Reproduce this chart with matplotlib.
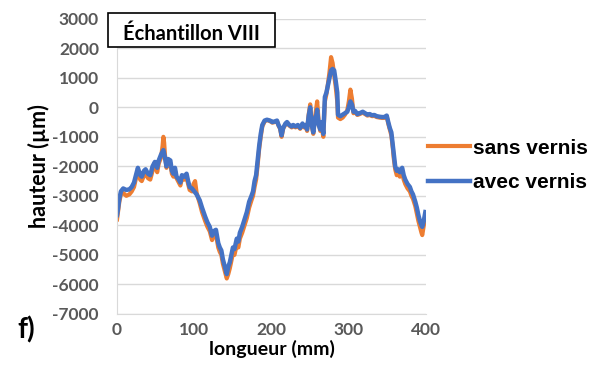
import matplotlib
matplotlib.use("Agg")
import matplotlib.pyplot as plt
from matplotlib.patches import Rectangle

plt.rcParams["font.family"] = ["Lato", "DejaVu Sans"]
plt.rcParams["axes.unicode_minus"] = False

# Profil de hauteur le long de l'échantillon (mm, µm)
x_avec = [0, 1, 3, 5, 8, 12, 16, 19, 22, 25, 27, 30, 32, 35, 37, 40, 43, 46, 49, 52,
          54, 57, 60, 62, 64, 66, 69, 71, 73, 75, 77, 80, 82, 84, 87, 90, 92, 94, 97, 100,
          103, 107, 110, 114, 117, 120, 123, 125, 128, 131, 133, 135, 137, 139, 142, 144, 146, 148, 150, 152,
          155, 157, 159, 162, 165, 168, 171, 174, 176, 178, 180, 182, 184, 186, 188, 191, 194, 198, 201, 204,
          207, 209, 211, 213, 215, 218, 220, 223, 226, 228, 231, 234, 237, 240, 242, 244, 246, 248, 250, 252,
          254, 256, 258, 259, 261, 263, 265, 267, 269, 271, 273, 275, 277, 279, 281, 283, 285, 286, 289, 292,
          295, 298, 300, 302, 304, 306, 308, 311, 314, 318, 321, 324, 327, 330, 333, 336, 340, 343, 346, 349,
          351, 353, 355, 357, 358, 360, 362, 364, 366, 369, 371, 373, 376, 379, 381, 383, 386, 388, 390, 392,
          394, 395, 397, 399]
y_avec = [-3650, -3500, -3100, -2850, -2750, -2800, -2780, -2700, -2550, -2250, -2050, -2300, -2350, -2150, -2100, -2250, -2300, -2000, -1850, -2050,
          -1800, -1600, -1450, -1700, -2000, -1750, -1800, -2150, -2250, -2050, -2350, -2450, -2550, -2300, -2350, -2250, -2500, -2700, -2750, -2850,
          -2950, -3150, -3400, -3700, -3900, -4050, -4350, -4200, -4150, -4600, -4750, -4850, -5150, -5350, -5650, -5400, -5250, -5000, -4750, -4800,
          -4450, -4550, -4250, -4050, -3800, -3550, -3200, -3000, -2850, -2500, -2300, -1800, -1300, -900, -600, -450, -420, -450, -500, -480,
          -450, -600, -700, -950, -700, -550, -500, -600, -650, -600, -650, -600, -700, -550, -650, -600, -750, -300, 0, -600,
          -850, -400, -250, -80, -600, -750, -500, -900, 350, 500, 750, 1000, 1250, 1300, 1250, 900, 500, -250, -300, -250,
          -200, -150, 0, 200, 100, -150, -120, -230, -200, -150, -200, -250, -230, -270, -260, -300, -320, -330, -330, -280,
          -500, -700, -850, -1300, -1550, -2000, -2150, -2100, -2200, -2050, -2300, -2450, -2600, -2700, -2850, -2950, -3200, -3400, -3650, -3850,
          -4000, -4050, -3850, -3550]

x_sans = x_avec[:22] + [59, 60, 61] + x_avec[23:39] + [99, 101] + x_avec[40:]
y_sans = [-3800, -3600, -3200, -2950, -2900, -3000, -2950, -2850, -2700, -2350, -2150, -2450, -2500, -2300, -2200, -2400, -2450, -2150, -1950, -2200,
          -1900, -1700, -1300, -1000, -1200, -1600, -2050, -1850, -1900, -2250, -2350, -2150, -2400, -2550, -2650, -2400, -2450, -2350, -2600, -2800, -2850,
          -2600, -2500,
          -2900, -3250, -3550, -3850, -4050, -4200, -4500, -4350, -4300, -4750, -4900, -5000, -5300, -5500, -5800, -5650, -5450, -5200, -4950, -5000,
          -4650, -4750, -4450, -4250, -4000, -3750, -3400, -3150, -3000, -2700, -2450, -1950, -1400, -1000, -650, -480, -430, -470, -520, -500,
          -470, -620, -720, -1000, -720, -580, -520, -620, -680, -620, -680, -630, -730, -580, -680, -630, -800, -250, 100, -600,
          -900, -400, 0, 200, -500, -800, -700, -1000, 200, 450, 800, 1200, 1700, 1500, 1100, 700, 200, -350, -400, -350,
          -250, -100, 200, 600, 300, -200, -150, -260, -230, -180, -230, -280, -260, -300, -290, -330, -350, -360, -360, -300,
          -550, -750, -950, -1400, -1700, -2100, -2300, -2250, -2350, -2200, -2450, -2600, -2750, -2850, -3000, -3100, -3350, -3600, -3850, -4050,
          -4250, -4330, -4000, -3700]

y_ticks = list(range(-7000, 3001, 1000))
x_ticks = [0, 100, 200, 300, 400]

fig = plt.figure(figsize=(5.91, 3.68), dpi=100)
ax = fig.add_axes([0.198, 0.147, 0.523, 0.802])

ax.plot(x_sans, y_sans, color="#ED7D31", lw=3.0, label="sans vernis", solid_joinstyle="round")
ax.plot(x_avec, y_avec, color="#4472C4", lw=3.2, label="avec vernis", solid_joinstyle="round")

ax.set_xlim(0, 400)
ax.set_ylim(-7000, 3000)
ax.set_xticks(x_ticks)
ax.set_yticks(y_ticks)
ax.grid(axis="y", color="#D9D9D9", lw=1)
ax.set_axisbelow(True)
ax.tick_params(length=0, labelsize=12.5, labelcolor="#595959")
ax.tick_params(axis="y", pad=13)
ax.tick_params(axis="x", pad=6)
for lab in ax.get_xticklabels() + ax.get_yticklabels():
    lab.set_fontweight("bold")
for s in ["top", "right"]:
    ax.spines[s].set_visible(False)
for s in ["left", "bottom"]:
    ax.spines[s].set_color("#D9D9D9")

ax.set_xlabel("longueur (mm)", fontsize=14, fontweight="bold", labelpad=1)
ax.set_ylabel("hauteur (µm)", fontsize=15.5, fontweight="bold", labelpad=2)

# cadre du titre
fig.patches.append(Rectangle((0.1827, 0.8723), 0.2826, 0.0924, transform=fig.transFigure,
                             fc="white", ec="black", lw=1.2, zorder=5))
fig.text(0.324, 0.907, "Échantillon VIII", fontsize=14.5,
         fontweight="bold", va="center", ha="center", zorder=6)

fig.text(0.03, 0.103, "f)", fontsize=20, fontweight="bold", ha="left", va="center")

ax.legend(loc="center left", bbox_to_anchor=(1.0, 0.503), frameon=False,
          prop=dict(family="Liberation Sans", size=15, weight="bold"),
          handlelength=2.0, handletextpad=0.15,
          labelspacing=0.75, borderaxespad=0, borderpad=0.1)

fig.savefig("out.png", dpi=100)
